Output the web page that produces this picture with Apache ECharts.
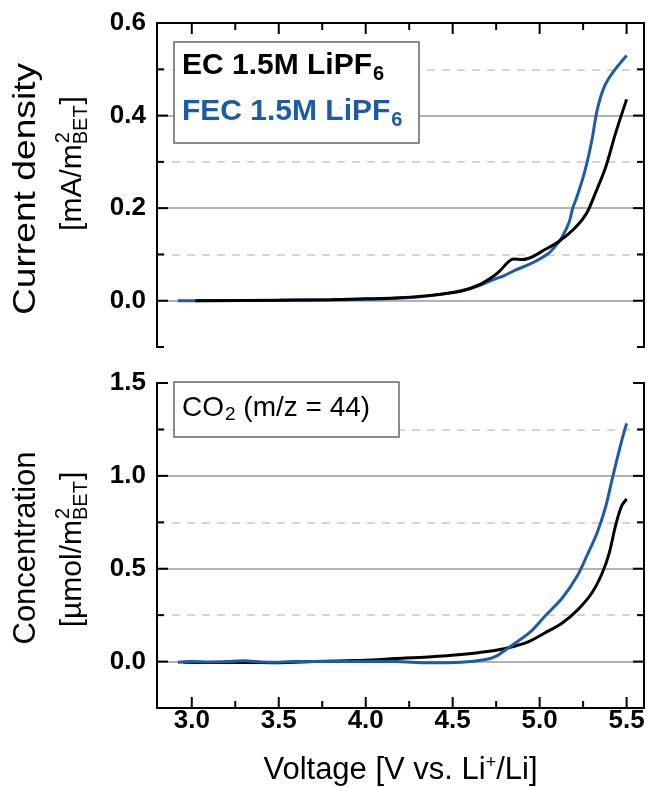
<!DOCTYPE html>
<html>
<head>
<meta charset="utf-8">
<script src="https://cdn.jsdelivr.net/npm/echarts@6/dist/echarts.min.js"></script>
<style>
    html, body { margin: 0; padding: 0; background: #fff; }
    #chartmain { width: 648px; height: 787px; }
</style>
</head>
<body>
<div id="chartmain"></div>
<script>
// 数据
var xMin = 2.8, xMax = 5.6;
var xTickMin = 3.0, xTickMax = 5.5, xStep = 0.5;
var jMin = -0.1, jMax = 0.6, jStep = 0.2, jMinor = 0.1;
var cMin = -0.25, cMax = 1.5, cStep = 0.5, cMinor = 0.25;

// current density, EC 1.5M LiPF6
var ecV = [3.02, 3.5, 3.8, 4.0, 4.17, 4.36, 4.55, 4.65, 4.73, 4.77, 4.82, 4.85, 4.9, 4.96, 5.01, 5.11, 5.2, 5.27, 5.32, 5.38, 5.435, 5.5];
var ecJ = [0.000, 0.001, 0.002, 0.004, 0.006, 0.011, 0.021, 0.034, 0.052, 0.064, 0.084, 0.090, 0.089, 0.095, 0.106, 0.128, 0.156, 0.189, 0.232, 0.289, 0.360, 0.435];
// current density, FEC 1.5M LiPF6
var fecV = [2.92, 3.0, 3.5, 4.0, 4.3, 4.5, 4.61, 4.73, 4.8, 4.86, 4.96, 5.05, 5.1, 5.13, 5.17, 5.19, 5.215, 5.26, 5.3, 5.33, 5.37, 5.42, 5.5];
var fecJ = [0.000, 0.000, 0.001, 0.003, 0.008, 0.018, 0.027, 0.045, 0.055, 0.066, 0.082, 0.102, 0.122, 0.138, 0.170, 0.200, 0.225, 0.280, 0.346, 0.411, 0.461, 0.493, 0.530];

// CO2 concentration
var ecCV = [2.95, 3.1, 3.3, 3.5, 3.7, 3.98, 4.17, 4.36, 4.55, 4.71, 4.82, 4.94, 5.03, 5.13, 5.22, 5.3, 5.36, 5.4, 5.435, 5.47, 5.5];
var ecC = [-0.004, -0.005, -0.004, -0.006, 0.000, 0.007, 0.016, 0.025, 0.038, 0.055, 0.074, 0.109, 0.154, 0.208, 0.280, 0.369, 0.477, 0.584, 0.727, 0.835, 0.875];
var fecCV = [2.92, 3.0, 3.1, 3.2, 3.3, 3.4, 3.5, 3.6, 3.8, 4.0, 4.17, 4.36, 4.55, 4.69, 4.75, 4.82, 4.94, 5.03, 5.13, 5.215, 5.27, 5.33, 5.38, 5.416, 5.444, 5.473, 5.5];
var fecC = [-0.003, 0.000, -0.002, 0.000, 0.004, -0.002, -0.003, 0.000, 0.000, 0.000, 0.000, -0.007, -0.004, 0.011, 0.029, 0.074, 0.154, 0.244, 0.342, 0.459, 0.566, 0.692, 0.835, 0.978, 1.086, 1.194, 1.283];

// 网格线: [first, last] of the solid and dashed reference lines
var jSolid = [0.0, 0.4], jDashed = [0.1, 0.5];
var cSolid = [0.0, 1.0], cDashed = [0.25, 1.25];

var FONT = '"Liberation Sans", Arial, sans-serif';
var BLUE = '#1d5ba6';

// plot boxes in pixels
var W = 648, PL = 157, PR = 644;
var TOP1 = 23, H1 = 324;
var TOP2 = 383, H2 = 325;

function pairs(xs, ys) {
    var out = [];
    for (var i = 0; i < xs.length; i++) {
        out.push([xs[i], ys[i]]);
    }
    return out;
}

var grids = [], xAxes = [], yAxes = [];
function addGrid(box, xs, ys) {
    var g = grids.length;
    grids.push(box);
    var r = {x: [], y: []};
    xs.forEach(function (a) { a.gridIndex = g; r.x.push(xAxes.length); xAxes.push(a); });
    ys.forEach(function (a) { a.gridIndex = g; r.y.push(yAxes.length); yAxes.push(a); });
    return r;
}

function hid() {
    return {type: 'value', show: false, min: 0, max: 1};
}

// frame edge (black box)
function frameAxis(pos, min, max, step) {
    return {
        type: 'value', position: pos, min: min, max: max, interval: step,
        axisLine: {show: true, onZero: false, lineStyle: {color: '#000', width: 2}},
        axisTick: {show: false},
        axisLabel: {show: false},
        splitLine: {show: false}
    };
}

// labels on a grid that spans exactly the labelled range
function labelAxis(pos, min, max, step, labels) {
    return {
        type: 'value', position: pos, min: min, max: max, interval: step,
        axisLine: {show: false, onZero: false},
        axisTick: {show: false},
        axisLabel: {
            show: labels, margin: 11, fontSize: 26, fontWeight: 'bold', color: '#000',
            formatter: function (v) { return v.toFixed(1); }
        },
        splitLine: {show: false}
    };
}

// three evenly spaced horizontal lines, grid spans first..last line
function lineAxis(dashed) {
    return {
        type: 'value', min: 0, max: 2, interval: 1,
        axisLine: {show: false}, axisTick: {show: false}, axisLabel: {show: false},
        splitLine: {show: true, lineStyle: dashed ?
            {type: [8, 7], color: '#c8c8c8', width: 1.5} :
            {type: 'solid', color: '#999', width: 1.5}}
    };
}

function yPix(v, lo, hi, t, h) {
    return t + (hi - v) / (hi - lo) * h;
}
function xPix(v) {
    return PL + (v - xMin) / (xMax - xMin) * (PR - PL);
}
function band(a, b, lo, hi, t0, h) {
    var t = yPix(b, lo, hi, t0, h);
    return {left: PL, right: W - PR, top: t, height: yPix(a, lo, hi, t0, h) - t};
}

var xoL = xPix(xTickMin), xoR = W - xPix(xTickMax);

// 上图 current density
addGrid(band(jSolid[0], jSolid[1], jMin, jMax, TOP1, H1), [hid()], [lineAxis(false)]);
addGrid(band(jDashed[0], jDashed[1], jMin, jMax, TOP1, H1), [hid()], [lineAxis(true)]);
addGrid(band(0, jMax, jMin, jMax, TOP1, H1), [hid()], [labelAxis('left', 0, jMax, jStep, true)]);
var gTop = addGrid({left: PL, right: W - PR, top: TOP1, height: H1},
    [frameAxis('top', xMin, xMax, null)],
    [frameAxis('left', jMin, jMax, jMinor), frameAxis('right', jMin, jMax, jMinor)]);

// 下图 CO2
addGrid(band(cSolid[0], cSolid[1], cMin, cMax, TOP2, H2), [hid()], [lineAxis(false)]);
addGrid(band(cDashed[0], cDashed[1], cMin, cMax, TOP2, H2), [hid()], [lineAxis(true)]);
addGrid(band(0, cMax, cMin, cMax, TOP2, H2), [hid()], [labelAxis('left', 0, cMax, cStep, true)]);
var xLab2 = labelAxis('bottom', xTickMin, xTickMax, xStep, true);
xLab2.axisLabel.margin = 0;
addGrid({left: xoL, right: xoR, top: TOP2, height: H2}, [xLab2], [hid()]);
var xFrame2 = frameAxis('bottom', xMin, xMax, null);
xFrame2.name = 'Voltage [V vs. Li{sup|+}/Li]';
xFrame2.nameLocation = 'middle';
xFrame2.nameGap = 46;
xFrame2.nameTextStyle = {
    fontSize: 31, color: '#000',
    rich: {sup: {fontSize: 18, color: '#000', padding: [0, 0, 14, 0]}}
};
var gBot = addGrid({left: PL, right: W - PR, top: TOP2, height: H2},
    [xFrame2],
    [frameAxis('left', cMin, cMax, cMinor), frameAxis('right', cMin, cMax, cMinor)]);

// 标题文字宽度
var ctx = document.createElement('canvas').getContext('2d');
function tw(txt, size) {
    ctx.font = size + 'px ' + FONT;
    return ctx.measureText(txt).width;
}

// rotated y title: line1, then "[pre m^2_BET]"
function yTitle(cx1, cy1, line1, stretch, cx2, cy2, pre) {
    var big = 30, small = 20;
    var w1 = tw(pre, big), ws = tw('BET', small), w3 = tw(']', big);
    var x0 = -(w1 + ws + w3) / 2;
    function t(txt, x, y, size, align) {
        return {type: 'text', x: x, y: y,
            style: {text: txt, fontSize: size, align: align, fill: '#000', fontFamily: FONT, verticalAlign: 'middle'}};
    }
    var first = t(line1, 0, 0, 31, 'center');
    first.scaleX = stretch;
    return [
        {type: 'group', x: cx1, y: cy1, rotation: Math.PI / 2, children: [first]},
        {type: 'group', x: cx2, y: cy2, rotation: Math.PI / 2,
            children: [
                t(pre, x0, 0, big, 'left'),
                t('2', x0 + w1 + 1, -10, small, 'left'),
                t('BET', x0 + w1, 8, small, 'left'),
                t(']', x0 + w1 + ws + 1, 0, big, 'left')
            ]}
    ];
}

var graphics = [
    {type: 'rect', shape: {x: 174, y: 42, width: 245, height: 101},
        style: {fill: '#fff', stroke: '#666', lineWidth: 1.5}, z: 10},
    {type: 'text', x: 182, y: 66, z: 11,
        style: {text: '{a|EC 1.5M LiPF}{s|6}', verticalAlign: 'middle', fontFamily: FONT,
            rich: {a: {fontSize: 30, fontWeight: 'bold', fill: '#000', fontFamily: FONT},
                s: {fontSize: 20, fontWeight: 'bold', fill: '#000', fontFamily: FONT, padding: [16, 0, 0, 1]}}}},
    {type: 'text', x: 182, y: 112, z: 11,
        style: {text: '{a|FEC 1.5M LiPF}{s|6}', verticalAlign: 'middle', fontFamily: FONT,
            rich: {a: {fontSize: 30, fontWeight: 'bold', fill: BLUE, fontFamily: FONT},
                s: {fontSize: 20, fontWeight: 'bold', fill: BLUE, fontFamily: FONT, padding: [16, 0, 0, 1]}}}},
    {type: 'rect', shape: {x: 174, y: 382, width: 225, height: 55},
        style: {fill: '#fff', stroke: '#666', lineWidth: 1.5}, z: 10},
    {type: 'text', x: 182, y: 408, z: 11,
        style: {text: '{a|CO}{s|2}{a| (m/z = 44)}', verticalAlign: 'middle', fontFamily: FONT,
            rich: {a: {fontSize: 28, fill: '#000', fontFamily: FONT},
                s: {fontSize: 19, fill: '#000', fontFamily: FONT, padding: [14, 0, 0, 1]}}}}
].concat(yTitle(26, 189, 'Current density', 1.2, 73, 164, '[mA/m'))
 .concat(yTitle(26, 548, 'Concentration', 1.0, 73, 550, '[\u00b5mol/m'));

var option = {
    animation: false,
    textStyle: {fontFamily: FONT},
    grid: grids,
    xAxis: xAxes,
    yAxis: yAxes,
    graphic: graphics,
    series: [
        {
            name: 'FEC 1.5M LiPF6', type: 'line', xAxisIndex: gTop.x[0], yAxisIndex: gTop.y[0],
            data: pairs(fecV, fecJ), showSymbol: false, smooth: 0.3,
            lineStyle: {color: BLUE, width: 3}, z: 2
        },
        {
            name: 'EC 1.5M LiPF6', type: 'line', xAxisIndex: gTop.x[0], yAxisIndex: gTop.y[0],
            data: pairs(ecV, ecJ), showSymbol: false, smooth: 0.3,
            lineStyle: {color: '#000', width: 3}, z: 3
        },
        {
            name: 'EC CO2', type: 'line', xAxisIndex: gBot.x[0], yAxisIndex: gBot.y[0],
            data: pairs(ecCV, ecC), showSymbol: false, smooth: 0.3,
            lineStyle: {color: '#000', width: 3}, z: 2
        },
        {
            name: 'FEC CO2', type: 'line', xAxisIndex: gBot.x[0], yAxisIndex: gBot.y[0],
            data: pairs(fecCV, fecC), showSymbol: false, smooth: 0.3,
            lineStyle: {color: BLUE, width: 3}, z: 3
        }
    ]
};

var myChart = echarts.init(document.getElementById('chartmain'));
myChart.setOption(option);

// 边框和刻度: placed through the chart's own axes
function X(v) { return myChart.convertToPixel({xAxisIndex: gTop.x[0]}, v); }
function YT(v) { return myChart.convertToPixel({yAxisIndex: gTop.y[0]}, v); }
function YB(v) { return myChart.convertToPixel({yAxisIndex: gBot.y[0]}, v); }

var marks = [];
function seg(x1, y1, x2, y2) {
    marks.push({type: 'line', silent: true, z: 5,
        shape: {x1: x1, y1: y1, x2: x2, y2: y2},
        style: {stroke: '#000', lineWidth: 2, lineCap: 'square'}});
}

var xl = X(xMin), xr = X(xMax);
// top panel: top, left, right edges
seg(xl, YT(jMax), xr, YT(jMax));
seg(xl, YT(jMax), xl, YT(jMin));
seg(xr, YT(jMax), xr, YT(jMin));
// bottom panel: bottom, left, right edges
seg(xl, YB(cMin), xr, YB(cMin));
seg(xl, YB(cMax), xl, YB(cMin));
seg(xr, YB(cMax), xr, YB(cMin));

// x ticks, inside: top of upper panel, bottom of lower panel
for (var v = xTickMin; v <= xTickMax + 1e-9; v += xStep / 2) {
    var major = Math.abs(v / xStep - Math.round(v / xStep)) < 1e-6;
    var len = major ? 10 : 6;
    var px = X(v);
    seg(px, YT(jMax), px, YT(jMax) + len);
    seg(px, YB(cMin), px, YB(cMin) - len);
}
// y ticks, inside on both sides
for (var v = jMin; v <= jMax + 1e-9; v += jMinor) {
    var len = Math.abs(v / jStep - Math.round(v / jStep)) < 1e-6 ? 10 : 6;
    var py = YT(v);
    seg(xl, py, xl + len, py);
    seg(xr, py, xr - len, py);
}
for (var v = cMin; v <= cMax + 1e-9; v += cMinor) {
    var len = Math.abs(v / cStep - Math.round(v / cStep)) < 1e-6 ? 10 : 6;
    var py = YB(v);
    seg(xl, py, xl + len, py);
    seg(xr, py, xr - len, py);
}

myChart.setOption({graphic: graphics.concat(marks)});
</script>
</body>
</html>
